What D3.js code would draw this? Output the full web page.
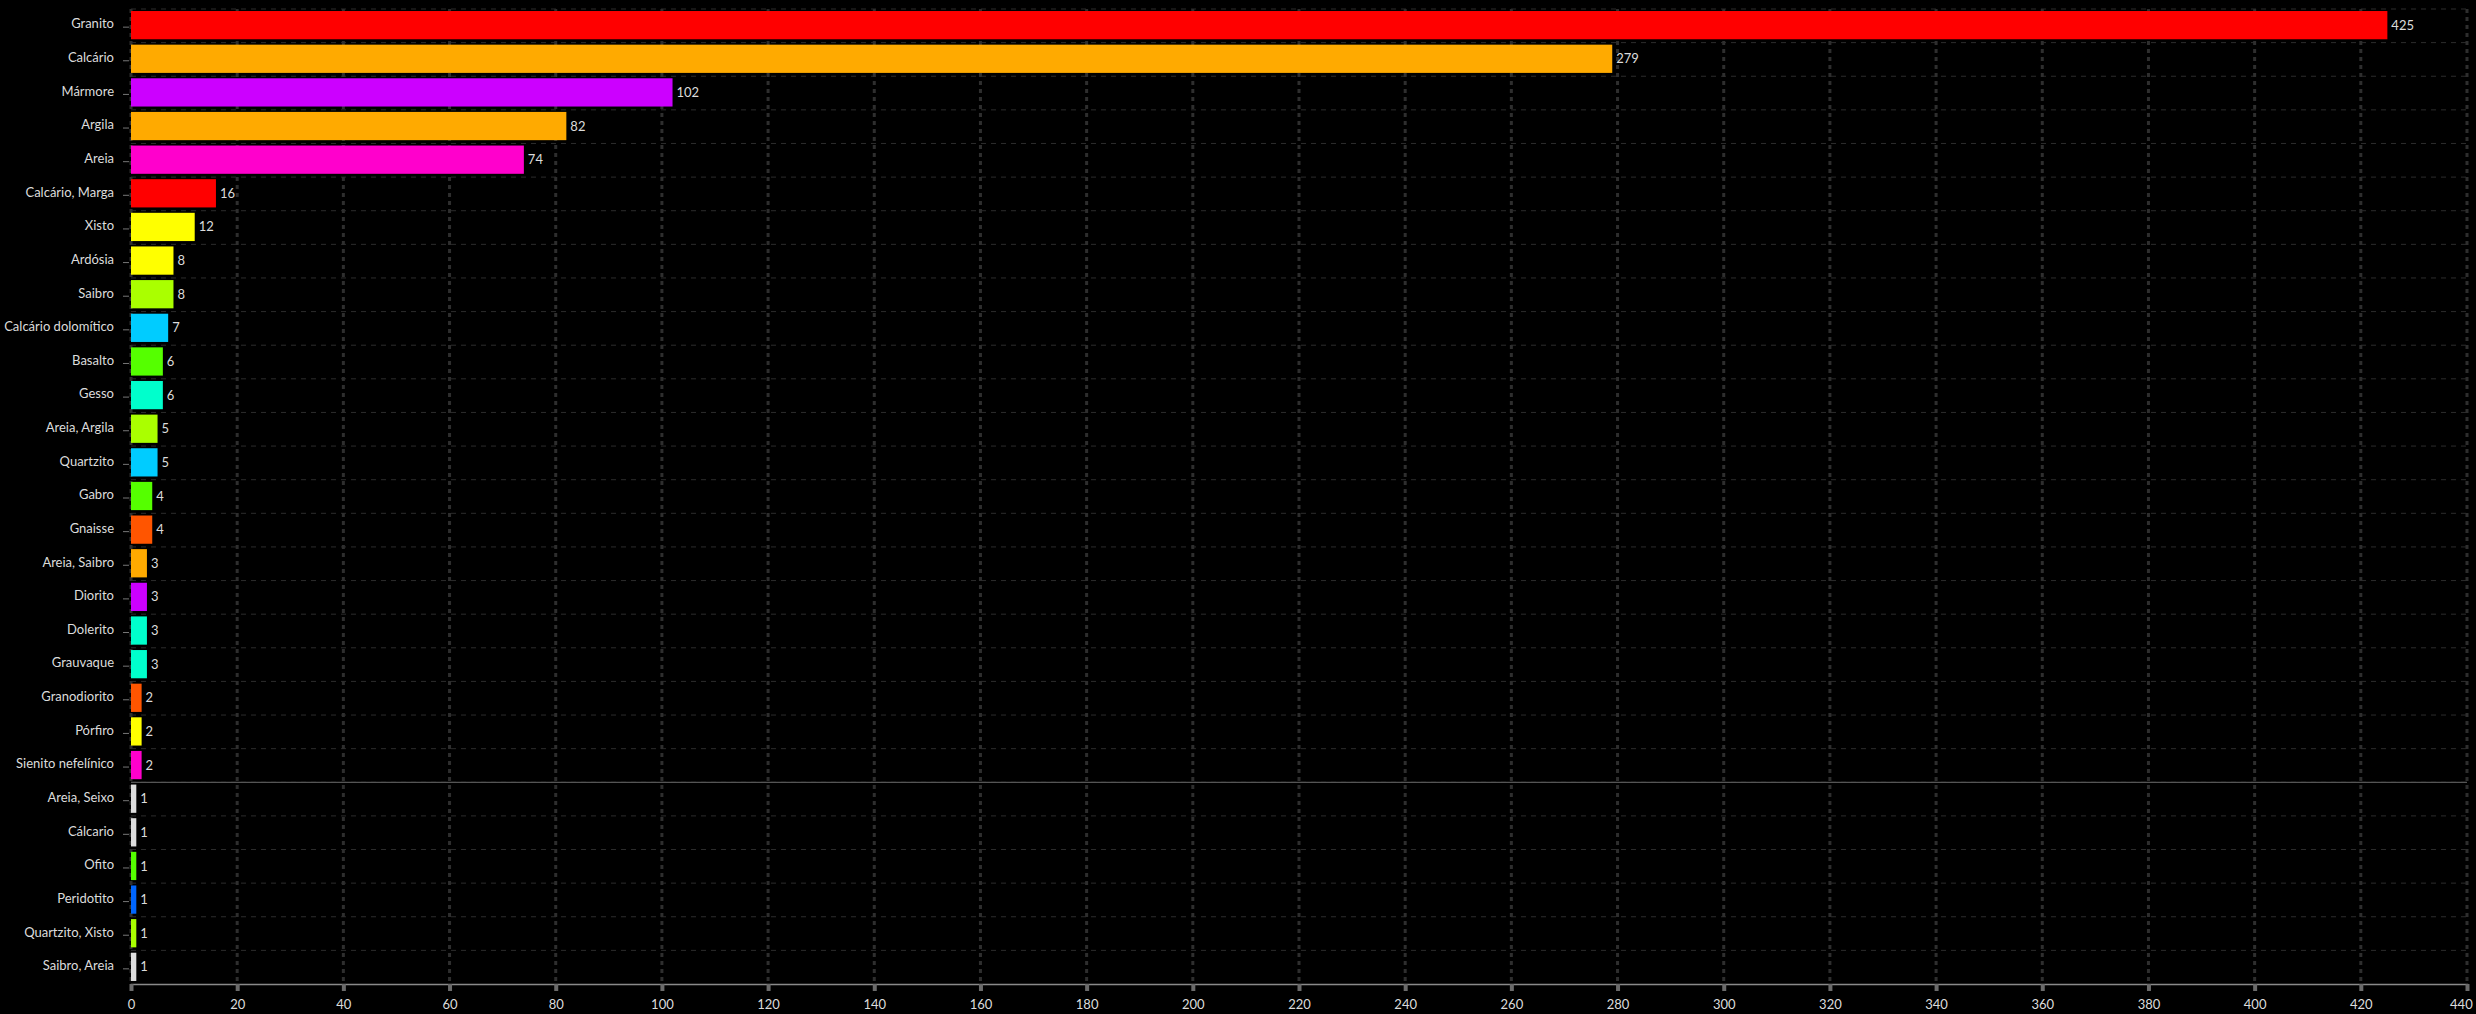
<!DOCTYPE html>
<html>
  <head>
    <meta charset="utf-8">
    <title>Rochas</title>
    <script src="https://d3js.org/d3.v7.min.js"></script>
    <style>
      html, body { margin: 0; padding: 0; background: #000; }
      svg text { font-family: Lato, "Open Sans", sans-serif; fill: #dcdcdc; }
    </style>
  </head>
  <body>
    <div class="chart"></div>

    <script>
      // rock types, counts and bar colours, top to bottom
      var categories = ["Granito", "Calcário", "Mármore", "Argila", "Areia", "Calcário, Marga", "Xisto",
        "Ardósia", "Saibro", "Calcário dolomítico", "Basalto", "Gesso", "Areia, Argila", "Quartzito",
        "Gabro", "Gnaisse", "Areia, Saibro", "Diorito", "Dolerito", "Grauvaque", "Granodiorito",
        "Pórfiro", "Sienito nefelínico", "Areia, Seixo", "Cálcario", "Ofito", "Peridotito",
        "Quartzito, Xisto", "Saibro, Areia"];
      var values = [425, 279, 102, 82, 74, 16, 12, 8, 8, 7, 6, 6, 5, 5, 4, 4, 3, 3, 3, 3, 2, 2, 2,
        1, 1, 1, 1, 1, 1];
      var colors = ["#ff0000", "#ffaa00", "#cc00ff", "#ffaa00", "#ff00cc", "#ff0000", "#ffff00",
        "#ffff00", "#aaff00", "#00ccff", "#55ff00", "#00ffcc", "#aaff00", "#00ccff",
        "#55ff00", "#ff5500", "#ffaa00", "#cc00ff", "#00ffcc", "#00ffcc", "#ff5500",
        "#ffff00", "#ff00cc", "#dddddd", "#dddddd", "#55ff00", "#0066ff",
        "#aaff00", "#dddddd"];
      var xTicks = d3.range(0, 441, 20);
      var splitAfter = "Sienito nefelínico"; // line under the last row with more than one

      var data = categories.map(function (c, i) {
        return {name: c, value: values[i], color: colors[i]};
      });

      var width = 2476, height = 1014;
      var margin = {top: 9, right: 9, bottom: 30, left: 131};
      var plotTop = margin.top, plotBottom = height - margin.bottom;

      var canvas = d3.select("div.chart").append("svg")
        .attr("width", width)
        .attr("height", height);

      var x = d3.scaleLinear()
        .domain([0, 440])
        .range([margin.left, width - margin.right]);

      var y = d3.scaleBand()
        .domain(categories)
        .range([plotTop, plotBottom - 1])
        .paddingInner(0.16)
        .paddingOuter(0.06);

      //horizontal grid, one dashed line per row boundary
      var rowH = (plotBottom - plotTop) / categories.length;
      var rowEdges = d3.range(0, categories.length).map(function (i) {
        return plotTop + i * rowH;
      });
      canvas.append("g").selectAll("line")
        .data(rowEdges)
        .enter().append("line")
        .attr("x1", x(0)).attr("x2", x(440))
        .attr("y1", function (d) { return d; })
        .attr("y2", function (d) { return d; })
        .attr("stroke", "#2c2c2c")
        .attr("stroke-width", 1)
        .attr("stroke-dasharray", "5,5");

      //vertical grid, dotted
      canvas.append("g").selectAll("line")
        .data(xTicks)
        .enter().append("line")
        .attr("x1", function (d) { return x(d); })
        .attr("x2", function (d) { return x(d); })
        .attr("y1", plotTop).attr("y2", plotBottom)
        .attr("stroke", "#2e2e2e")
        .attr("stroke-width", 3)
        .attr("stroke-dasharray", "4,4");

      //separator between counts > 1 and counts of 1
      var sepY = plotTop + (categories.indexOf(splitAfter) + 1) * rowH;
      canvas.append("line")
        .attr("x1", x(0)).attr("x2", x(440))
        .attr("y1", sepY).attr("y2", sepY)
        .attr("stroke", "#555")
        .attr("stroke-width", 1.2);

      //bars
      canvas.append("g").selectAll("rect")
        .data(data)
        .enter().append("rect")
        .attr("x", x(0))
        .attr("y", function (d) { return y(d.name); })
        .attr("width", function (d) { return x(d.value) - x(0); })
        .attr("height", y.bandwidth())
        .attr("fill", function (d) { return d.color; });

      //value labels
      canvas.append("g").selectAll("text")
        .data(data)
        .enter().append("text")
        .attr("x", function (d) { return x(d.value) + 4; })
        .attr("y", function (d) { return y(d.name) + y.bandwidth() / 2; })
        .attr("dy", "0.35em")
        .style("font-size", "13px")
        .text(function (d) { return d.value; });

      //y axis: labels and small ticks
      var yAxis = canvas.append("g")
        .attr("transform", "translate(" + (x(0) - 2) + ",2)")
        .call(d3.axisLeft(y).tickSize(6).tickPadding(9));
      yAxis.select(".domain").remove();
      yAxis.selectAll(".tick line").attr("stroke", "#777");
      yAxis.selectAll(".tick text")
        .attr("dy", "0.1em")
        .style("font-size", "13px")
        .style("font-family", "Lato, 'Open Sans', sans-serif")
        .attr("fill", "#dcdcdc");

      //x axis
      var xAxis = canvas.append("g")
        .attr("transform", "translate(0," + plotBottom + ")")
        .call(d3.axisBottom(x).tickValues(xTicks).tickSize(7).tickPadding(9));
      xAxis.select(".domain").attr("stroke", "#8a8a8a").attr("stroke-width", 1.5);
      xAxis.selectAll(".tick line").attr("stroke", "#6a6a6a").attr("stroke-width", 4);
      xAxis.selectAll(".tick text")
        .style("font-size", "13px")
        .style("font-family", "Lato, 'Open Sans', sans-serif")
        .attr("fill", "#dcdcdc");
      // keep the last label inside the page
      xAxis.selectAll(".tick text").filter(function (d) { return d === 440; })
        .attr("text-anchor", "end").attr("dx", "0.4em");
    </script>
  </body>
</html>
